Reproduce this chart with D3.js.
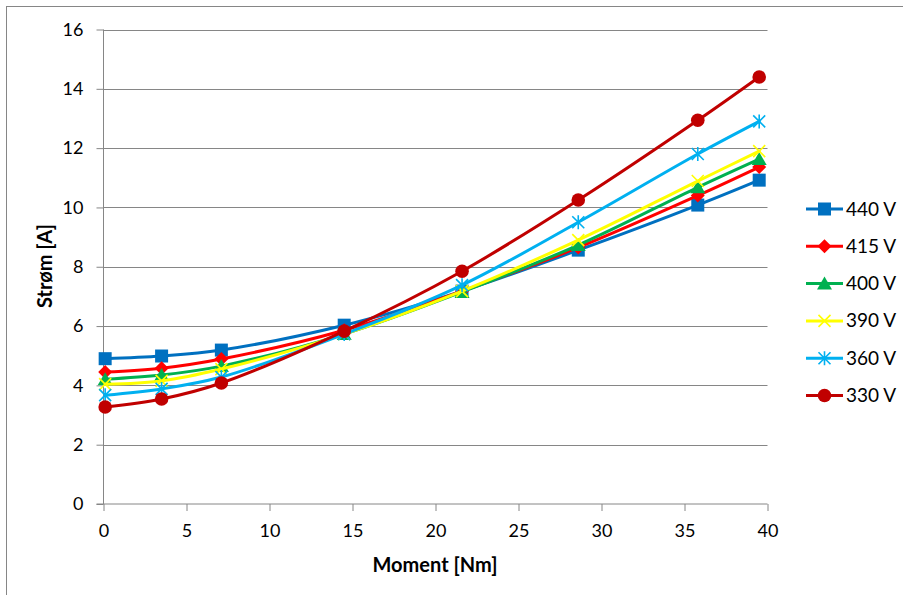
<!DOCTYPE html>
<html><head><meta charset="utf-8">
<script src="https://cdn.jsdelivr.net/npm/d3@7"></script>
<style>body{margin:0;background:#fff}svg{display:block}text{font-family:Lato,"Liberation Sans",sans-serif}</style>
</head><body>
<svg id="c" width="903" height="595"></svg>
<script>
const xValues = [0.1, 3.5, 7.1, 14.5, 21.6, 28.6, 35.8, 39.5];
const seriesNames = ["440 V", "415 V", "400 V", "390 V", "360 V", "330 V"];
const v440 = [4.9, 4.99, 5.19, 6.03, 7.18, 8.56, 10.08, 10.92];
const v415 = [4.45, 4.58, 4.89, 5.86, 7.18, 8.65, 10.4, 11.36];
const v400 = [4.21, 4.35, 4.65, 5.73, 7.15, 8.73, 10.68, 11.63];
const v390 = [4.04, 4.15, 4.55, 5.73, 7.18, 8.9, 10.89, 11.9];
const v360 = [3.67, 3.88, 4.28, 5.73, 7.38, 9.5, 11.8, 12.9];
const v330 = [3.27, 3.54, 4.08, 5.83, 7.85, 10.25, 12.94, 14.4];
const xTicks = [0, 5, 10, 15, 20, 25, 30, 35, 40];
const yTicks = [0, 2, 4, 6, 8, 10, 12, 14, 16];
const colors = ["#0070C0", "#FF0000", "#00B050", "#FFFF00", "#00B0F0", "#C00000"];
const markers = ["square", "diamond", "triangle", "x", "asterisk", "circle"];
const allValues = [v440, v415, v400, v390, v360, v330];

const svg = d3.select("#c");
const x = d3.scaleLinear().domain([0, 40]).range([103.5, 767.5]);
const y = d3.scaleLinear().domain([0, 16]).range([504, 29.5]);

svg.append("rect").attr("x", 6.5).attr("y", 6.5).attr("width", 920).attr("height", 620)
  .attr("fill", "none").attr("stroke", "#868686").attr("stroke-width", 1);

// gridlines
svg.append("g").selectAll("line").data(yTicks.filter(d => d > 0)).join("line")
  .attr("x1", x(0)).attr("x2", x(40)).attr("y1", d => Math.round(y(d)) + 0.5).attr("y2", d => Math.round(y(d)) + 0.5)
  .attr("stroke", "#868686").attr("stroke-width", 1);

const yAxis = svg.append("g").attr("transform", `translate(${x(0)},0)`)
  .call(d3.axisLeft(y).tickValues(yTicks).tickSize(7).tickPadding(13).tickFormat(d3.format("d")));
const xAxis = svg.append("g").attr("transform", `translate(0,${y(0)})`)
  .call(d3.axisBottom(x).tickValues(xTicks).tickSize(7).tickPadding(13).tickFormat(d3.format("d")));
[yAxis, xAxis].forEach(a => {
  a.selectAll("path,line").attr("stroke", "#868686");
  a.select(".domain").attr("d", null);
  a.selectAll("text").attr("font-size", 18).attr("fill", "#000").attr("font-family", "Lato, sans-serif");
});
svg.append("line").attr("x1", x(0)).attr("x2", x(0)).attr("y1", y(16)).attr("y2", y(0)).attr("stroke", "#868686");
svg.append("line").attr("x1", x(0) - 7).attr("x2", x(40)).attr("y1", y(0)).attr("y2", y(0)).attr("stroke", "#868686");

svg.append("text").attr("x", 435).attr("y", 572).attr("text-anchor", "middle")
  .attr("font-size", 20).attr("font-weight", "bold").text("Moment [Nm]");
svg.append("text").attr("transform", "translate(52,266) rotate(-90)").attr("text-anchor", "middle")
  .attr("font-size", 20).attr("font-weight", "bold").text("Strøm [A]");

function drawMarker(g, type, color, cx, cy) {
  if (type === "square") {
    g.append("rect").attr("x", cx - 6.5).attr("y", cy - 6.5).attr("width", 13).attr("height", 13).attr("fill", color);
  } else if (type === "diamond") {
    g.append("path").attr("d", `M${cx},${cy-7}L${cx+7},${cy}L${cx},${cy+7}L${cx-7},${cy}Z`).attr("fill", color);
  } else if (type === "triangle") {
    g.append("path").attr("d", `M${cx},${cy-7}L${cx+7.5},${cy+6}L${cx-7.5},${cy+6}Z`).attr("fill", color);
  } else if (type === "x") {
    g.append("path").attr("d", `M${cx-6},${cy-6}L${cx+6},${cy+6}M${cx-6},${cy+6}L${cx+6},${cy-6}`)
      .attr("stroke", color).attr("stroke-width", 1.6).attr("fill", "none");
  } else if (type === "asterisk") {
    g.append("path").attr("d", `M${cx-6},${cy-6}L${cx+6},${cy+6}M${cx-6},${cy+6}L${cx+6},${cy-6}M${cx},${cy-7}L${cx},${cy+7}`)
      .attr("stroke", color).attr("stroke-width", 1.6).attr("fill", "none");
  } else if (type === "circle") {
    g.append("circle").attr("cx", cx).attr("cy", cy).attr("r", 6.8).attr("fill", color);
  }
}

const line = d3.line().x(d => x(d[0])).y(d => y(d[1])).curve(d3.curveCatmullRom.alpha(0.5));
allValues.forEach((vals, i) => {
  const g = svg.append("g");
  const pts = xValues.map((xv, j) => [xv, vals[j]]);
  g.append("path").attr("d", line(pts)).attr("fill", "none").attr("stroke", colors[i]).attr("stroke-width", 3)
    .attr("stroke-linejoin", "round").attr("stroke-linecap", "round");
  pts.forEach(p => drawMarker(g, markers[i], colors[i], x(p[0]), y(p[1])));
});

// legend
seriesNames.forEach((name, i) => {
  const ly = 209 + i * 37.3;
  const g = svg.append("g");
  g.append("line").attr("x1", 806).attr("x2", 843).attr("y1", ly).attr("y2", ly).attr("stroke", colors[i]).attr("stroke-width", 3);
  drawMarker(g, markers[i], colors[i], 824.5, ly);
  g.append("text").attr("x", 846).attr("y", ly + 6.5).attr("font-size", 19).text(name);
});
</script>
</body></html>
